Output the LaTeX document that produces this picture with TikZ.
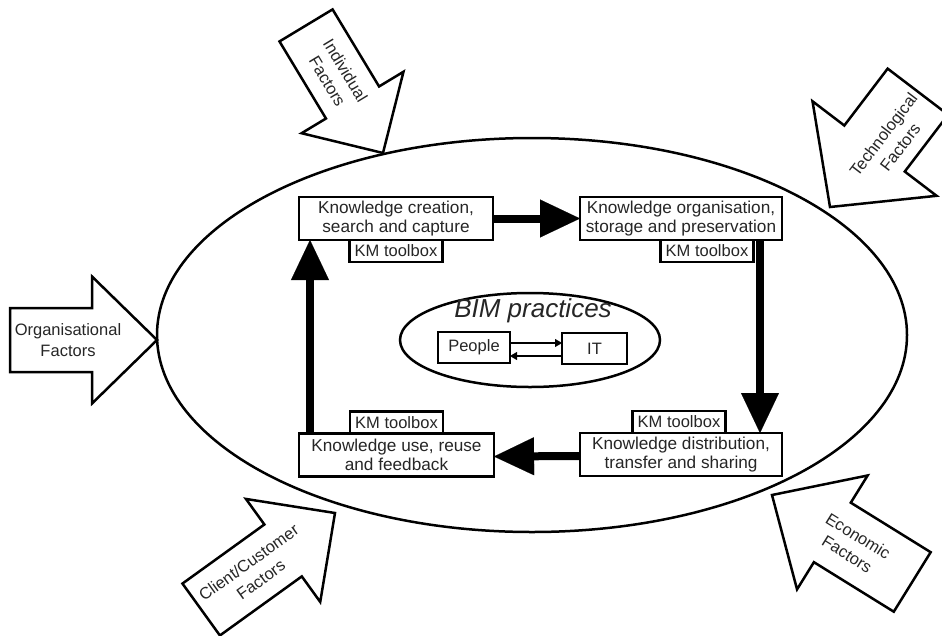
\documentclass[tikz,border=0pt]{standalone}
\usepackage{fontspec}
\setmainfont{Liberation Sans}
\usetikzlibrary{arrows.meta}
\begin{document}
\begin{tikzpicture}[x=1pt,y=-1pt,
  blk/.style={draw, line width=2.5pt, fill=white, line join=miter},
  kbox/.style={draw, line width=2.5pt, fill=white, inner sep=0pt, outer sep=0pt, align=center,
    minimum height=43pt, font=\fontsize{17.2}{19.5}\selectfont, text=black!85},
  tbox/.style={draw, line width=2.5pt, fill=white, inner sep=0pt, outer sep=0pt,
    minimum width=93pt, minimum height=22pt, font=\fontsize{16.5}{19.5}\selectfont, text=black!85},
  ftext/.style={align=center, font=\fontsize{16.5}{21}\selectfont, text=black!85, inner sep=0pt},
  bigarrow/.style={line width=8pt, -{Triangle[length=40pt,width=38pt,line width=0.1pt]}},
  smallarrow/.style={line width=2pt, -{Triangle[length=7pt,width=8pt,line width=0.1pt]}},
]
\useasboundingbox (0,0) rectangle (942,635);
\clip (0,0) rectangle (942,635);

% outer ellipse
\draw[line width=2.5pt] (532,335) ellipse [x radius=375pt, y radius=197pt];

% factor arrows
\begin{scope}[shift={(157,340)}, rotate=0]
  \draw[blk] (-147,32) -- (-65,32) -- (-65,63.5) -- (0,0) -- (-65,-63.5) -- (-65,-32) -- (-147,-32) -- cycle;
  \node[ftext, transform shape] (forg) at (-89,0) {Organisational\\Factors};
\end{scope}
\begin{scope}[shift={(383,153)}, rotate=-58.9]
  \draw[blk] (-149,31) -- (-59,31) -- (-59,59.5) -- (0,0) -- (-59,-59.5) -- (-59,-31) -- (-149,-31) -- cycle;
  \node[ftext, transform shape] (find) at (-90,0) {Individual\\Factors};
\end{scope}
\begin{scope}[shift={(830,207)}, rotate=-127.3]
  \draw[blk] (-145,38) -- (-73.5,38) -- (-73.5,78) -- (0,0) -- (-73.5,-78) -- (-73.5,-38) -- (-145,-38) -- cycle;
  \node[ftext, transform shape, rotate=180] (ftec) at (-90,-9) {Technological\\Factors};
\end{scope}
\begin{scope}[shift={(335,513)}, rotate=35.8]
  \draw[blk] (-165,32) -- (-64,32) -- (-64,63.5) -- (0,0) -- (-64,-63.5) -- (-64,-32) -- (-165,-32) -- cycle;
  \node[ftext, transform shape] (fcli) at (-99,0) {Client/Customer\\Factors};
\end{scope}
\begin{scope}[shift={(772,495)}, rotate=148.2]
  \draw[blk] (-165,35) -- (-71,35) -- (-71,67) -- (0,0) -- (-71,-67) -- (-71,-35) -- (-165,-35) -- cycle;
  \node[ftext, transform shape, rotate=180] (feco) at (-95,0) {Economic\\Factors};
\end{scope}

% knowledge boxes
\node[kbox, minimum width=194pt] (box1) at (396,218.5) {Knowledge creation,\\search and capture};
\node[kbox, minimum width=202pt] (box2) at (681,218.5) {Knowledge organisation,\\storage and preservation};
\node[kbox, minimum width=195pt] (box3) at (396.5,455) {Knowledge use, reuse\\and feedback};
\node[kbox, minimum width=202pt] (box4) at (681,454.5) {Knowledge distribution,\\transfer and sharing};

\node[tbox, anchor=north] (km1) at (box1.south) {KM toolbox};
\node[tbox, anchor=north] (km2) at ([xshift=26pt]box2.south) {KM toolbox};
\node[tbox, anchor=south] (km3) at (box3.north) {KM toolbox};
\node[tbox, anchor=south] (km4) at ([xshift=-2pt]box4.north) {KM toolbox};

% cycle arrows
\draw[bigarrow] (box1) -- (box2);
\draw[bigarrow] ([xshift=-22pt]box2.south east) -- ([xshift=-22pt]box4.north east);
\draw[bigarrow] ([yshift=-1.5pt]box4.west) -- ([yshift=-1.5pt]box3.east);
\draw[bigarrow] ([xshift=11pt]box3.north west) -- ([xshift=11pt]box1.south west);

% BIM practices
\draw[line width=2.5pt] (530,340) ellipse [x radius=130pt, y radius=47pt];
\node[anchor=base, font=\itshape\fontsize{26}{30}\selectfont, text=black!85, inner sep=0pt] (bim) at (533,317) {BIM practices};
\node[kbox, minimum width=72pt, minimum height=31pt, font=\fontsize{16.5}{19.5}\selectfont] (people) at (474,347.5) {People};
\node[kbox, minimum width=65pt, minimum height=31pt, font=\fontsize{16.5}{19.5}\selectfont] (it) at (594.5,348.5) {IT};
\coordinate (yup) at (0,343);
\coordinate (ydn) at (0,356);
\draw[smallarrow] (people.east |- yup) -- (it.west |- yup);
\draw[smallarrow] (it.west |- ydn) -- (people.east |- ydn);
\end{tikzpicture}
\end{document}
